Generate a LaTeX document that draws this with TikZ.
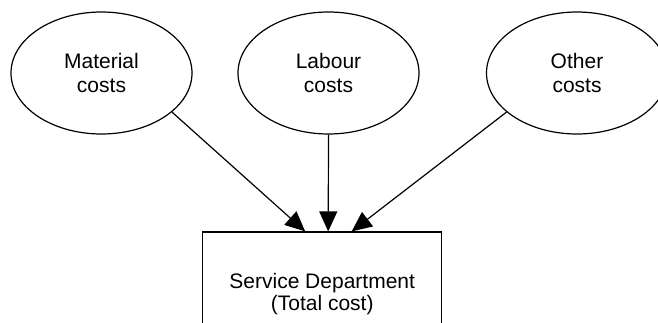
\documentclass[tikz,border=0pt]{standalone}
\usepackage{fontspec}
\setmainfont{Liberation Sans}
\usetikzlibrary{shapes.geometric,arrows.meta}
\begin{document}
\begin{tikzpicture}[x=1pt,y=-1pt,
  cost/.style={ellipse,draw,line width=1.2pt,minimum width=181pt,minimum height=122pt,inner sep=0pt,align=center,font=\fontsize{21}{24}\selectfont},
  dept/.style={draw,line width=1.2pt,minimum width=239pt,minimum height=124pt,inner sep=0pt,align=center,font=\fontsize{21}{22.5}\selectfont},
  arr/.style={line width=1.2pt,-{Triangle[length=20pt,width=18pt]}}]
\useasboundingbox (0,0) rectangle (658,322);
\clip (0,0) rectangle (658,322);
\node[cost] (m) at (101.5,73) {Material\\costs};
\node[cost] (l) at (328.5,73) {Labour\\costs};
\node[cost] (o) at (577,73) {Other\\costs};
\node[dept] (d) at (322.2,294) {Service Department\\(Total cost)};
\draw[arr] (m.-29) -- ([xshift=-17pt]d.north);
\draw[arr] (l.south) -- ([xshift=6pt]d.north);
\draw[arr] (o.-151) -- ([xshift=29.5pt]d.north);
\end{tikzpicture}
\end{document}
